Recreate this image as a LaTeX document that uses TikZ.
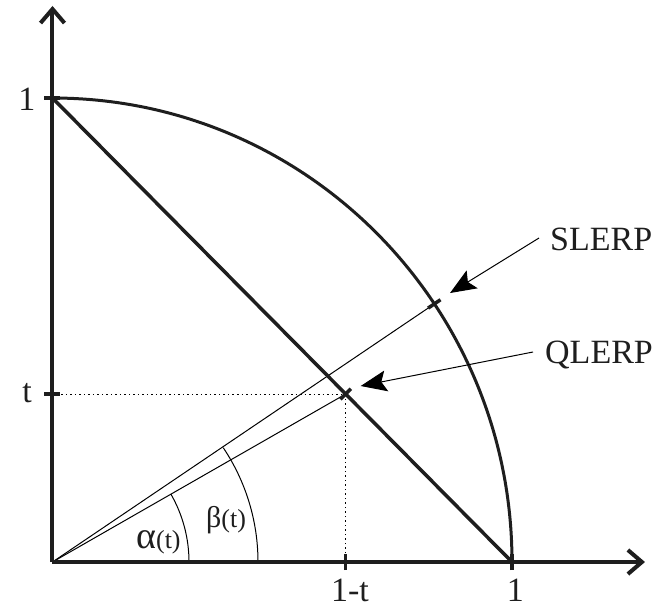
\documentclass[tikz,border=0pt]{standalone}
\usepackage{fontspec}
\setmainfont{Liberation Serif}
\usetikzlibrary{arrows.meta}
\definecolor{ink}{HTML}{1E1E1E}
\definecolor{thin}{HTML}{404040}
\tikzset{
  axis/.style={ink, line width=4pt, -{Straight Barb[length=14pt,width=24pt,line width=4pt]}},
  heavy/.style={ink, line width=3.5pt},
  arcline/.style={ink, line width=3pt},
  ray/.style={thin, line width=1pt},
  guide/.style={thin, line width=1pt, dash pattern=on 1.5pt off 3pt},
  tickmark/.style={ink, line width=3.5pt},
  ptr/.style={thin, line width=1pt, -{Stealth[length=26pt,width=21pt,inset=5pt]}},
  lbl/.style={inner sep=0pt, font=\fontsize{34}{40}\selectfont, text=ink},
  ang/.style={inner sep=0pt, text=ink}
}
\begin{document}
\begin{tikzpicture}[x=459.5pt, y=464pt]
\useasboundingbox (-0.11425,-0.09698) rectangle (1.31338,1.21121);
% key points
\coordinate (O) at (0,0);
\coordinate (X1) at (1,0);
\coordinate (Y1) at (0,1);
\coordinate (Xend) at (1.2894,0);
\coordinate (Yend) at (0,1.1983);
\coordinate (Q) at (0.638,0.362);
\coordinate (Qx) at (0.638,0);
\coordinate (Qy) at (0,0.362);
\coordinate (S) at ({cos(33.8)},{sin(33.8)});
% guides
\draw[guide] (Qy) -- (Q);
\draw[guide] (Qx) -- (Q);
% rays
\draw[ray] (O) -- (S);
\draw[ray] (O) -- (Q);
% angle arcs
\draw[ray] (O) ++(0:136.5pt) arc[start angle=0, end angle=29.9, radius=136.5pt];
\draw[ray] (O) ++(0:205.5pt) arc[start angle=0, end angle=33.8, radius=205.5pt];
% quarter circle and chord
\draw[arcline] (Y1) arc[start angle=90, end angle=0, x radius=459.5pt, y radius=464pt];
\draw[heavy] (Y1) -- (X1);
% axes
\draw[axis] (O) -- (Xend);
\draw[axis] (O) -- (Yend);
% ticks
\draw[tickmark] ([xshift=-8pt]Y1) -- ([xshift=8pt]Y1);
\draw[tickmark] ([xshift=-8pt]Qy) -- ([xshift=8pt]Qy);
\draw[tickmark] ([yshift=-8pt]X1) -- ([yshift=8pt]X1);
\draw[tickmark] ([yshift=-8pt]Qx) -- ([yshift=8pt]Qx);
\draw[tickmark] ([shift={(-5.3pt,-5.3pt)}]Q) -- ([shift={(5.3pt,5.3pt)}]Q);
\draw[tickmark] ([shift={(-6.2pt,-4.2pt)}]S) -- ([shift={(6.2pt,4.2pt)}]S);
% axis labels
\node[lbl, anchor=base] (ly1) at (-0.0555,0.9741) {1};
\node[lbl, anchor=base] (lyt) at (-0.0555,0.3427) {t};
\node[lbl, anchor=base] (lx1) at (1.0076,-0.0841) {1};
\node[lbl, anchor=base] (lxt) at (0.6474,-0.0841) {1-t};
% angle labels
\node[ang, anchor=base west] (la) at (0.1817,0.0302) {\fontsize{38}{40}\selectfont α\fontsize{26}{30}\selectfont(t)};
\node[ang, anchor=base west] (lb) at (0.334,0.0754) {\fontsize{30}{34}\selectfont β\fontsize{26}{30}\selectfont(t)};
% pointer labels
\node[lbl, anchor=base west] (ls) at (1.0827,0.6724) {SLERP};
\node[lbl, anchor=base west] (lq) at (1.0718,0.4289) {QLERP};
\coordinate (sstart) at (1.0588,0.6983);
\coordinate (stip) at (0.8651,0.5797);
\coordinate (qstart) at (1.0457,0.4526);
\coordinate (qtip) at (0.6707,0.3793);
\draw[ptr] (sstart) -- (stip);
\draw[ptr] (qstart) -- (qtip);
\end{tikzpicture}
\end{document}
